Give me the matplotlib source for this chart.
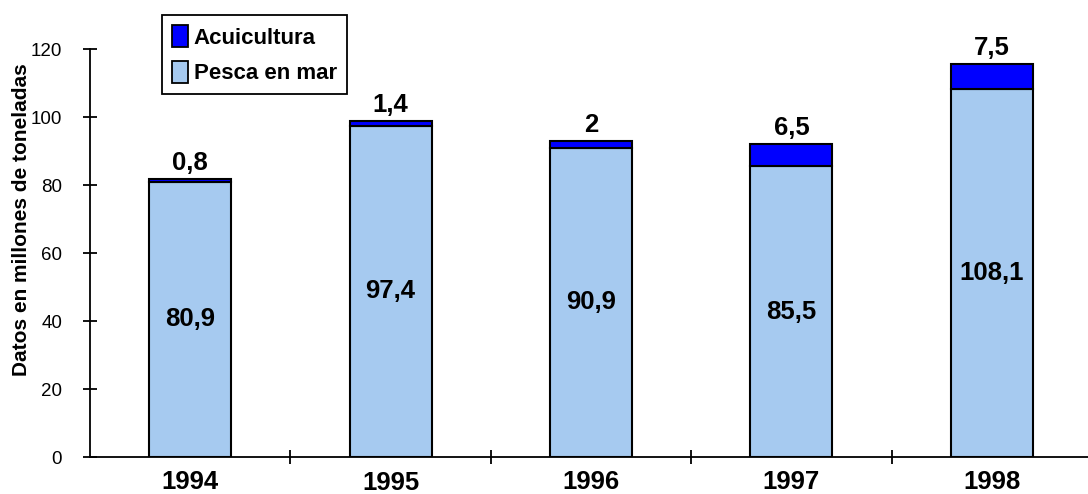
import matplotlib
matplotlib.use('Agg')
import numpy as np
from matplotlib import pyplot as plt
from matplotlib.patches import Patch

years = ['1994', '1995', '1996', '1997', '1998']
pesca = [80.9, 97.4, 90.9, 85.5, 108.1]
acui = [0.8, 1.4, 2, 6.5, 7.5]
pesca_txt = ['80,9', '97,4', '90,9', '85,5', '108,1']
acui_txt = ['0,8', '1,4', '2', '6,5', '7,5']
yticks = [0, 20, 40, 60, 80, 100, 120]

light = '#A6CAF0'
dark = '#0000FF'

plt.rcParams['font.family'] = ['Liberation Sans', 'DejaVu Sans']

fig = plt.figure(figsize=(10.88, 4.94), dpi=100)
ax = fig.add_axes([90 / 1088, 1 - 457 / 494, 1002 / 1088, 408 / 494])

x = np.arange(len(years))
w = 0.41
ax.bar(x, pesca, w, color=light, edgecolor='black', linewidth=1.5, zorder=2)
ax.bar(x, acui, w, bottom=pesca, color=dark, edgecolor='black',
       linewidth=1.5, zorder=2)

for i in range(len(years)):
    ax.text(x[i], pesca[i] / 2, pesca_txt[i], ha='center', va='center',
            fontsize=18.5, fontweight='bold')
    ax.annotate(acui_txt[i], (x[i], pesca[i] + acui[i]),
                xytext=(0, 3), textcoords='offset points',
                ha='center', va='bottom', fontsize=18.5, fontweight='bold')

ax.set_xlim(-0.5, 4.5)
ax.set_ylim(0, 120)
ax.set_yticks(yticks)
ax.set_yticklabels([str(v) for v in yticks], fontsize=13.5)
ax.set_xticks(x)
ax.set_xticklabels(years, fontsize=18.5, fontweight='bold')
ax.set_xticks(np.arange(0.5, 4.5, 1.0), minor=True)
ax.tick_params(axis='x', which='major', length=0, pad=9)
ax.tick_params(axis='x', which='minor', direction='inout', length=10,
               width=1.3)
ax.tick_params(axis='y', direction='inout', length=10, width=1.3, pad=15)
# 1995 sits a bit lower, like in the original
ax.get_xticklabels()[1].set_y(-0.003)

for s in ['top', 'right']:
    ax.spines[s].set_visible(False)
for s in ['left', 'bottom']:
    ax.spines[s].set_linewidth(1.3)
ax.spines['bottom'].set_zorder(3)

fig.text(22 / 1088, 1 - 220 / 494, 'Datos en millones de toneladas',
         rotation=90, ha='center', va='center', fontsize=15,
         fontweight='bold')

handles = [Patch(facecolor=dark, edgecolor='black', linewidth=1.3),
           Patch(facecolor=light, edgecolor='black', linewidth=1.3)]
leg = fig.legend(handles, ['Acuicultura', 'Pesca en mar'],
                 loc='upper left', bbox_to_anchor=(162 / 1088, 1 - 15 / 494),
                 prop={'size': 16, 'weight': 'bold'}, fancybox=False,
                 edgecolor='black', framealpha=1, handlelength=0.7,
                 handleheight=1.15, handletextpad=0.28, borderpad=0.45,
                 labelspacing=0.55, borderaxespad=0)
leg.get_frame().set_linewidth(1.3)

fig.savefig('out.png', dpi=100)
